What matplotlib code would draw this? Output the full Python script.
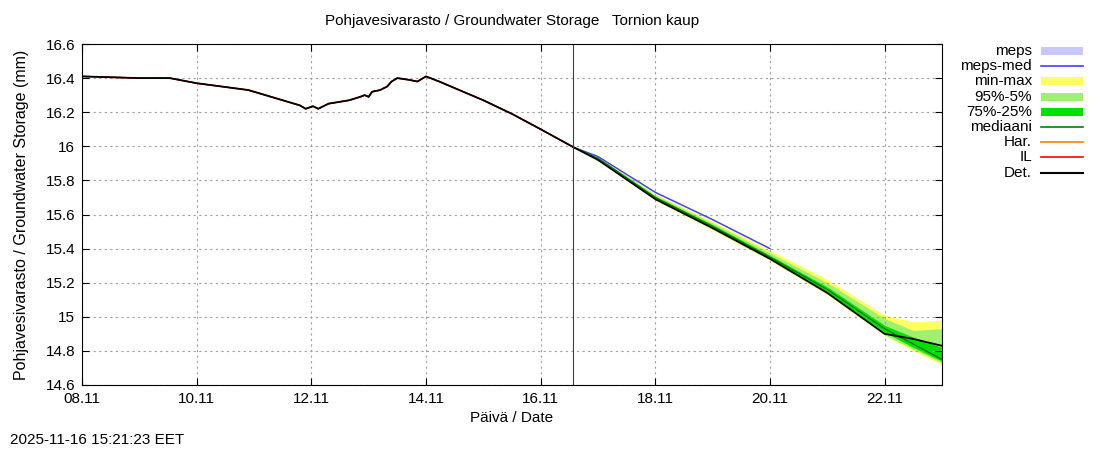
import matplotlib
matplotlib.use("Agg")
import matplotlib.pyplot as plt
from matplotlib.lines import Line2D
from matplotlib.patches import Rectangle
import numpy as np

plt.rcParams['font.family'] = ['Liberation Sans', 'DejaVu Sans']
plt.rcParams['font.size'] = 11

# history (days since 08.11 00:00)
hist_t = [0, 1.0, 1.53, 2.0, 2.9, 3.8, 3.9, 4.03, 4.12, 4.3, 4.66, 4.85, 4.93, 5.0, 5.06, 5.2, 5.32, 5.4, 5.5, 5.7, 5.85, 6.0, 6.23, 7.0, 7.5, 8.0, 8.57]
hist_v = [16.41, 16.40, 16.40, 16.37, 16.33, 16.24, 16.22, 16.235, 16.22, 16.25, 16.27, 16.29, 16.30, 16.29, 16.32, 16.33, 16.35, 16.38, 16.40, 16.39, 16.38, 16.41, 16.38, 16.27, 16.19, 16.10, 15.995]
# forecast
fc_t = [8.57, 9, 10, 11, 12, 13, 14, 14.5, 15]
med = [15.995, 15.93, 15.70, 15.53, 15.35, 15.16, 14.93, 14.84, 14.75]
det = [15.995, 15.92, 15.69, 15.52, 15.34, 15.14, 14.90, 14.87, 14.83]
vmin = [15.995, 15.92, 15.685, 15.51, 15.33, 15.13, 14.89, 14.80, 14.72]
vmax = [15.995, 15.94, 15.72, 15.56, 15.39, 15.22, 15.01, 14.97, 14.98]
p95 = [15.995, 15.935, 15.715, 15.55, 15.375, 15.20, 14.99, 14.92, 14.93]
p05 = [15.995, 15.92, 15.69, 15.515, 15.335, 15.135, 14.895, 14.81, 14.73]
p75 = [15.995, 15.93, 15.705, 15.54, 15.36, 15.175, 14.95, 14.88, 14.82]
p25 = [15.995, 15.925, 15.695, 15.52, 15.34, 15.145, 14.91, 14.82, 14.74]
meps_t = [8.57, 9, 10, 11, 12]
meps_med = [15.995, 15.94, 15.73, 15.57, 15.40]

ticks = np.arange(0, 16, 2)
tick_labels = ['08.11', '10.11', '12.11', '14.11', '16.11', '18.11', '20.11', '22.11']
yticks = [14.6, 14.8, 15, 15.2, 15.4, 15.6, 15.8, 16, 16.2, 16.4, 16.6]
ylabels = ['14.6', '14.8', '15', '15.2', '15.4', '15.6', '15.8', '16', '16.2', '16.4', '16.6']

fig = plt.figure(figsize=(11, 4.5), dpi=100)
ax = fig.add_axes([82/1100, 65/450, 860/1100, 341/450])

ax.fill_between(meps_t, np.array(meps_med)-0.005, np.array(meps_med)+0.005, color='#c8c8ff', lw=0)
ax.plot(meps_t, meps_med, color='#4040ff', lw=1)
ax.fill_between(fc_t, vmin, vmax, color='#ffff60', lw=0)
ax.fill_between(fc_t, p05, p95, color='#a0f070', lw=0)
ax.fill_between(fc_t, p25, p75, color='#00e000', lw=0)
ax.plot(fc_t, med, color='#008000', lw=1)
ax.plot(hist_t, hist_v, color='#ff8000', lw=1)
ax.plot(hist_t, hist_v, color='#ff0000', lw=1)
ax.plot(hist_t + fc_t[1:], hist_v + det[1:], color='black', lw=1.3)
ax.axvline(8.57, color='#404040', lw=0.8)

ax.set_xlim(0, 15)
ax.set_ylim(14.6, 16.6)
ax.set_xticks(ticks)
ax.set_xticklabels(tick_labels)
ax.set_yticks(yticks)
ax.set_yticklabels(ylabels)
ax.grid(True, color='#a0a0a0', ls=(0, (2, 3)), lw=0.8)
ax.tick_params(direction='in', top=True, right=True, length=5, pad=5)
ax.set_xlabel('Päivä / Date', labelpad=4)
ax.set_ylabel('Pohjavesivarasto / Groundwater Storage (mm)', labelpad=12, fontsize=11.5)
fig.text(512/1100, 1 - 21/450, 'Pohjavesivarasto / Groundwater Storage   Tornion kaup', ha='center', va='center')

# gnuplot-style legend
names = ['meps', 'meps-med', 'min-max', '95%-5%', '75%-25%', 'mediaani', 'Har.', 'IL', 'Det.']
styles = [('box', '#c8c8ff', 8), ('line', '#4040ff', 1.2), ('box', '#ffff60', 8), ('box', '#a0f070', 8),
          ('box', '#00e000', 8), ('line', '#008000', 1.2), ('line', '#ff8000', 1.2), ('line', '#ff0000', 1.2),
          ('line', 'black', 1.5)]
for i, (n, (kind, c, w)) in enumerate(zip(names, styles)):
    y = 1 - (51 + i * 15.2) / 450
    fig.text(1032/1100, y, n, ha='right', va='center')
    if kind == 'box':
        fig.add_artist(Rectangle((1041/1100, y - 4/450), 42/1100, 8/450, color=c, lw=0, transform=fig.transFigure))
    else:
        fig.add_artist(Line2D([1041/1100, 1083/1100], [y, y], color=c, lw=w, transform=fig.transFigure))

fig.text(10/1100, 1 - 440/450, '2025-11-16 15:21:23 EET', va='center')
fig.savefig('out.png')
